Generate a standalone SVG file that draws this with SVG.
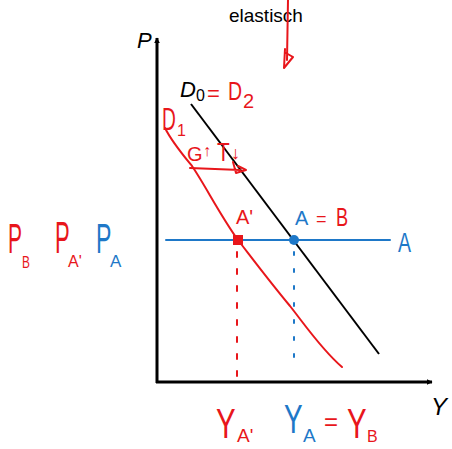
<svg xmlns="http://www.w3.org/2000/svg" width="452" height="449" viewBox="0 0 452 449">
<defs>
<marker id="ah" viewBox="0 0 10 10" refX="9" refY="5" markerWidth="6" markerHeight="6" orient="auto" markerUnits="userSpaceOnUse">
<path d="M0,0 L10,5 L0,10 z" fill="#000"/>
</marker>
<style>
.ax{stroke:#000;stroke-width:3;fill:none}
.red{stroke:#e8161b;fill:none;stroke-width:2;stroke-linecap:round;stroke-linejoin:round}
.blue{stroke:#1e78c8;fill:none;stroke-width:2;stroke-linecap:round;stroke-linejoin:round}
.tr{fill:#e8161b;font-family:"Liberation Sans",sans-serif}
.tb{fill:#1e78c8;font-family:"Liberation Sans",sans-serif}
.tk{fill:#000;font-family:"Liberation Sans",sans-serif}
</style>
</defs>
<rect width="452" height="449" fill="#fff"/>
<g id="title"><text class="tk" x="229" y="22" font-size="19">elastisch</text></g>
<g id="red-arrow"><path class="red" d="M288,0 L287,60 M285,49 L284,68 L293,57 L286,53"/></g>
<g id="axes">
<line class="ax" x1="157" y1="383" x2="157" y2="38" marker-end="url(#ah)"/>
<line class="ax" x1="156" y1="382" x2="432" y2="382" marker-end="url(#ah)"/>
<text class="tk" x="137" y="48" font-size="22" font-style="italic">P</text>
<text class="tk" x="431" y="415" font-size="24" font-style="italic">Y</text>
</g>
<g id="connectors">
<line x1="191" y1="104" x2="379" y2="354" stroke="#000" stroke-width="2"/>
<path class="red" d="M165,128 C172,142 183,155 192,166 C205,185 220,215 238,240 C255,262 270,282 290,306 C305,325 322,350 342,367"/>
<line class="blue" x1="166" y1="240" x2="390" y2="240"/>
<path class="red" d="M190,168 L240,170 M233,162 L236,173 L246,170 L238,166"/>
<line class="red" x1="237" y1="252" x2="237" y2="376" stroke-dasharray="5,12"/>
<line class="blue" x1="294" y1="252" x2="294" y2="370" stroke-dasharray="3,14"/>
</g>
<g id="point-A1"><rect x="233" y="235" width="10" height="10" fill="#e8161b"/></g>
<g id="point-A"><circle cx="294" cy="240" r="5" fill="#1e78c8"/></g>
<g id="label-D0">
<text class="tk" x="180" y="97" font-size="22" font-style="italic">D</text>
<text class="tk" x="196" y="101" font-size="16">0</text>
<text class="tr" x="207" y="101" font-size="22">=</text>
<text class="tr" x="228" y="100" font-size="26" transform="translate(228,100) scale(0.75,1) translate(-228,-100)">D</text>
<text class="tr" x="243" y="108" font-size="20">2</text>
</g>
<g id="label-D1">
<text class="tr" x="162" y="130" font-size="32" transform="translate(162,130) scale(0.6,1) translate(-162,-130)">D</text>
<text class="tr" x="177" y="136" font-size="16">1</text>
</g>
<g id="label-GT">
<text class="tr" x="187" y="161" font-size="20">G</text>
<text class="tr" x="203" y="156" font-size="16">↑</text>
<text class="tr" x="217" y="161" font-size="26" transform="translate(217,161) scale(0.8,1) translate(-217,-161)">T</text>
<text class="tr" x="231" y="159" font-size="18">↓</text>
</g>
<g id="label-A1"><text class="tr" x="236" y="224" font-size="20">A'</text></g>
<g id="label-AB">
<text class="tb" x="295" y="225" font-size="20">A</text>
<text class="tr" x="316" y="225" font-size="18">=</text>
<text class="tr" x="336" y="226" font-size="26" transform="translate(336,226) scale(0.7,1) translate(-336,-226)">B</text>
</g>
<g id="label-A-line"><text class="tb" x="398" y="252" font-size="28" transform="translate(398,252) scale(0.7,1) translate(-398,-252)">A</text></g>
<g id="label-PB">
<text class="tr" x="8" y="253" font-size="42" transform="translate(8,253) scale(0.5,1) translate(-8,-253)">P</text>
<text class="tr" x="22" y="268" font-size="17" transform="translate(22,268) scale(0.7,1) translate(-22,-268)">B</text>
</g>
<g id="label-PA1">
<text class="tr" x="55" y="253" font-size="44" transform="translate(55,253) scale(0.5,1) translate(-55,-253)">P</text>
<text class="tr" x="68" y="267" font-size="16">A'</text>
</g>
<g id="label-PA">
<text class="tb" x="96" y="253" font-size="42" transform="translate(96,253) scale(0.55,1) translate(-96,-253)">P</text>
<text class="tb" x="110" y="267" font-size="17">A</text>
</g>
<g id="label-YA1">
<text class="tr" x="216" y="438" font-size="42" transform="translate(216,438) scale(0.7,1) translate(-216,-438)">Y</text>
<text class="tr" x="237" y="442" font-size="19">A'</text>
</g>
<g id="label-YA">
<text class="tb" x="284" y="433" font-size="40" transform="translate(284,433) scale(0.7,1) translate(-284,-433)">Y</text>
<text class="tb" x="303" y="442" font-size="19">A</text>
</g>
<g id="label-YB">
<text class="tr" x="324" y="430" font-size="24">=</text>
<text class="tr" x="347" y="438" font-size="42" transform="translate(347,438) scale(0.7,1) translate(-347,-438)">Y</text>
<text class="tr" x="367" y="442" font-size="16">B</text>
</g>
</svg>
